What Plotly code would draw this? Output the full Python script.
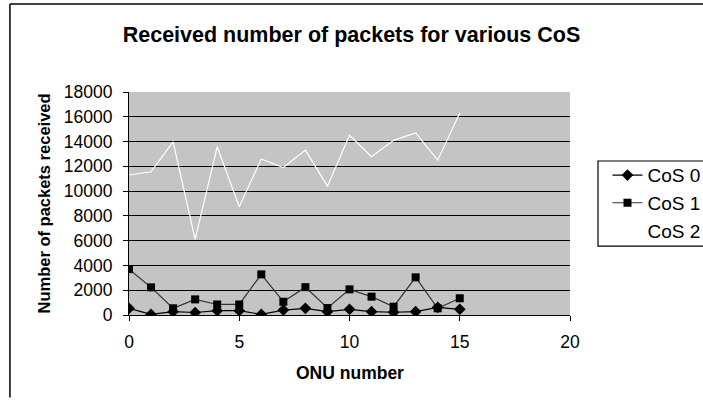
import plotly.graph_objects as go

onu = list(range(16))
cos0 = [540, 50, 270, 200, 350, 350, 50, 400, 540, 270, 460, 270, 220, 270, 620, 460]
cos1 = [3700, 2230, 540, 1260, 850, 850, 3280, 1070, 2250, 560, 2070, 1480, 670, 3040, 540, 1350]
cos2 = [11300, 11560, 13980, 6100, 13580, 8740, 12600, 11900, 13310, 10400, 14500, 12770, 14100, 14700, 12500, 16300]

FONT = "Liberation Sans, Arial, sans-serif"

fig = go.Figure()
fig.add_trace(go.Scatter(x=onu, y=cos0, name="CoS 0", mode="lines+markers",
                         line=dict(color="black", width=1.2),
                         marker=dict(symbol="diamond", size=9, color="black")))
fig.add_trace(go.Scatter(x=onu, y=cos1, name="CoS 1", mode="lines+markers",
                         line=dict(color="#333333", width=1.2),
                         marker=dict(symbol="square", size=8, color="black")))
fig.add_trace(go.Scatter(x=onu, y=cos2, name="CoS 2", mode="lines",
                         line=dict(color="white", width=1.2)))

fig.update_layout(
    width=703, height=401,
    margin=dict(l=129, r=133, t=92, b=86, autoexpand=False),
    paper_bgcolor="white",
    plot_bgcolor="#c4c4c4",
    font=dict(family=FONT, size=17, color="black"),
    title=dict(text="<b>Received number of packets for various CoS</b>",
               x=0.5, xanchor="center", y=0.913, yanchor="middle",
               font=dict(family=FONT, size=21.5, color="black")),
    showlegend=True,
    legend=dict(x=1.085, xanchor="left", y=0.712, yanchor="top",
                bgcolor="rgba(0,0,0,0)", borderwidth=0,
                font=dict(family=FONT, size=19), tracegroupgap=0),
    xaxis=dict(range=[0, 20], dtick=5, tick0=0, showgrid=False, zeroline=False,
               showline=True, linecolor="black", linewidth=1,
               ticks="outside", ticklen=5, tickcolor="black",
               ticklabelstandoff=6,
               tickfont=dict(family=FONT, size=17.5)),
    yaxis=dict(range=[0, 18000], dtick=2000, tick0=0, showgrid=True,
               tickformat="d",
               gridcolor="black", gridwidth=1, zeroline=False,
               showline=True, linecolor="black", linewidth=1,
               ticks="outside", ticklen=5, tickcolor="black",
               ticklabelstandoff=7,
               tickfont=dict(family=FONT, size=17.5)),
    annotations=[
        dict(text="<b>Number of packets received</b>", xref="paper", yref="paper",
             x=-0.195, y=0.5, xanchor="center", yanchor="middle", textangle=-90,
             showarrow=False, font=dict(family=FONT, size=16.5)),
        dict(text="<b>ONU number</b>", xref="paper", yref="paper",
             x=0.5, y=-0.26, xanchor="center", yanchor="middle",
             showarrow=False, font=dict(family=FONT, size=17.5)),
    ],
    shapes=[
        dict(type="line", xref="paper", yref="paper", x0=-0.27, x1=-0.27,
             y0=1.395, y1=-0.37, line=dict(color="black", width=1.5)),
        dict(type="line", xref="paper", yref="paper", x0=-0.27, x1=1.33,
             y0=1.395, y1=1.395, line=dict(color="black", width=1.5)),
        dict(type="rect", xref="paper", yref="paper", x0=1.0635, x1=1.35,
             y0=0.6906, y1=0.309, fillcolor="white",
             line=dict(color="black", width=1.2)),
    ],
)

fig.write_html("out.html")
